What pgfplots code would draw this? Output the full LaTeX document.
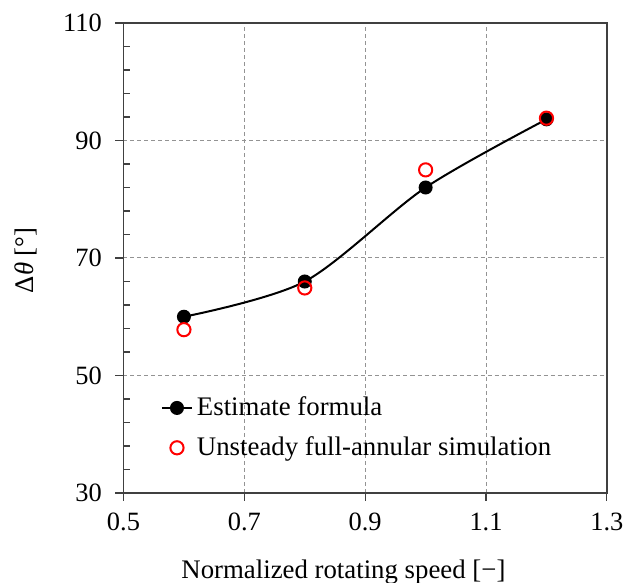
\documentclass[border=0pt]{standalone}
\usepackage{fontspec}
\setmainfont{Liberation Serif}
\usepackage{pgfplots}
\pgfplotsset{compat=1.18}
\begin{document}
\begin{tikzpicture}
\begin{axis}[
  scale only axis,
  width=241.7pt, height=235pt,
  xmin=0.5, xmax=1.3, ymin=30, ymax=110,
  xtick={0.5,0.7,0.9,1.1,1.3},
  ytick={30,50,70,90,110},
  xticklabels={0.5,0.7,0.9,1.1,1.3},
  minor y tick num=4,
  xtick pos=bottom, ytick pos=left,
  tick align=inside,
  major tick length=-4pt,
  minor tick length=3.5pt,
  major tick style={line width=0.6pt, black!75},
  minor tick style={line width=0.6pt, black!75},
  axis line style={line width=0.7pt, black!75},
  grid=major,
  major grid style={dash pattern=on 2pt off 1.5pt, gray!85, line width=0.5pt},
  /pgf/number format/assume math mode=true,
  tick label style={font=\fontsize{13.2}{15}\selectfont},
  xticklabel style={yshift=-6.5pt},
  yticklabel style={xshift=-7.3pt},
  xlabel={Normalized rotating speed [−]},
  ylabel={Δ\textit{θ} [°]},
  every axis x label/.style={at={(axis description cs:0.455,-0.1813)}, anchor=base, font=\fontsize{13.4}{15}\selectfont},
  every axis y label/.style={at={(axis description cs:-0.2028,0.495)}, rotate=90, anchor=center, font=\fontsize{13.4}{15}\selectfont},
  legend style={draw=none, fill=none, at={(0.0767,0.2136)}, anchor=north west,
    font=\fontsize{13.4}{15}\selectfont, row sep=5pt, inner sep=0pt},
  legend cell align=left,
  legend image code/.code={\draw[mark repeat=2,mark phase=2,#1] plot coordinates {(0pt,0pt) (7.5pt,0pt) (15pt,0pt)};},
]
\addplot[black, line width=1pt, smooth, tension=0.5, mark=*, mark size=3pt,
  mark options={solid, fill=black}]
  coordinates {(0.6,60) (0.8,66) (1.0,82) (1.2,93.6)};
\addlegendentry{Estimate formula}
\addplot[only marks, mark=o, mark size=3.3pt, red, mark options={line width=1pt}]
  coordinates {(0.6,57.8) (0.8,64.9) (1.0,85) (1.2,93.8)};
\addlegendentry{Unsteady full-annular simulation}
\end{axis}
\pgfresetboundingbox
\path ([shift={(-61.75pt,-45pt)}]current axis.south west) rectangle ([shift={(13.05pt,11.5pt)}]current axis.north east);
\end{tikzpicture}
\end{document}
